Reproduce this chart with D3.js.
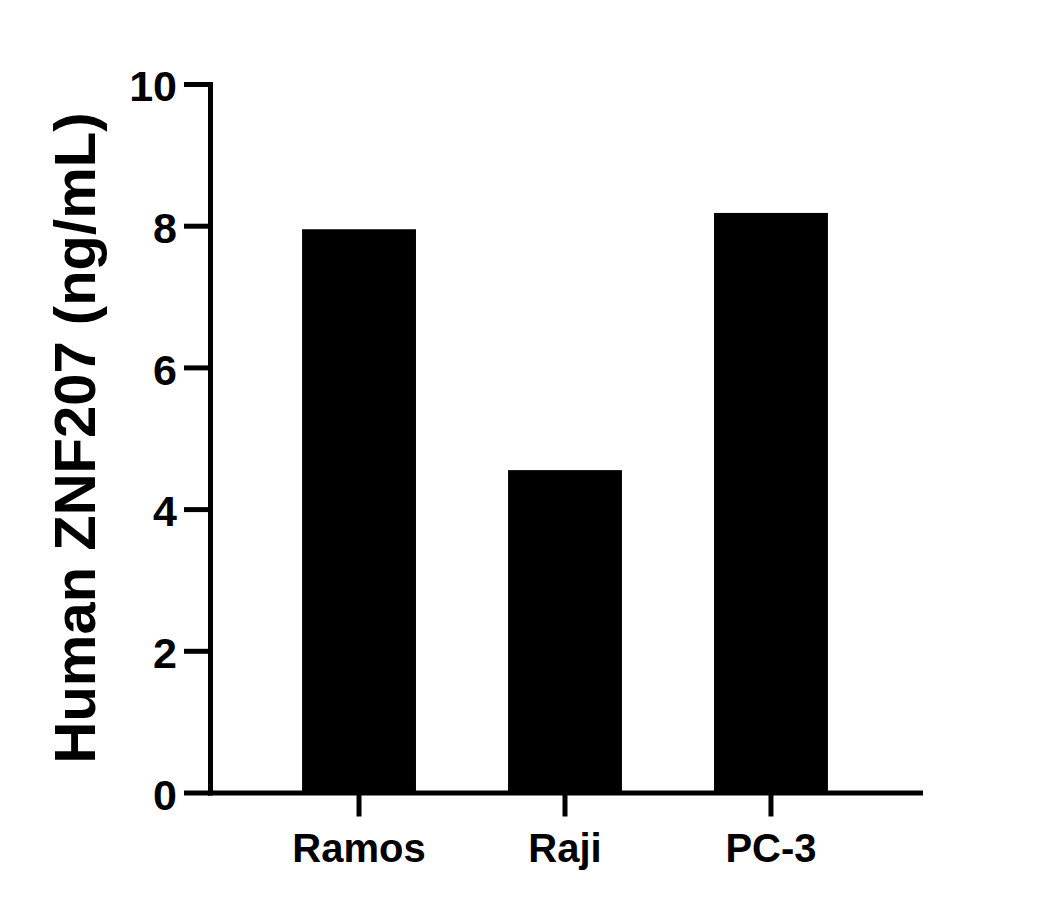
<!DOCTYPE html>
<html>
<head>
<meta charset="utf-8">
<script src="https://cdn.jsdelivr.net/npm/d3@7"></script>
<style>
    body { margin: 0; background: #fff; }
    text { font-family: "Liberation Sans", Arial, sans-serif; font-weight: bold; fill: #000; }
</style>
</head>
<body>
<div id="chart"></div>
<script>
var categories = ["Ramos", "Raji", "PC-3"];
var values = [7.95, 4.55, 8.18];
var yTicks = [0, 2, 4, 6, 8, 10];
var yTitle = "Human ZNF207 (ng/mL)";

(function () {
    var width = 1052, height = 910;
    var left = 210, right = 920, top = 84, bottom = 792.5;

    var svg = d3.select("#chart").append("svg")
        .attr("width", width)
        .attr("height", height);

    var x = d3.scaleBand()
        .domain(categories)
        .range([left, right])
        .padding(0.447);

    var y = d3.scaleLinear()
        .domain([0, 10])
        .range([bottom, top]);

    // bars
    svg.selectAll(".bar")
        .data(values)
        .enter().append("rect")
        .attr("class", "bar")
        .attr("x", function (d, i) { return x(categories[i]); })
        .attr("y", function (d) { return y(d); })
        .attr("width", x.bandwidth())
        .attr("height", function (d) { return y(0) - y(d); })
        .attr("fill", "#000");

    // y axis
    var gy = svg.append("g")
        .attr("transform", "translate(" + left + ",0)")
        .call(d3.axisLeft(y).tickValues(yTicks).tickSize(26).tickSizeOuter(0));
    gy.select(".domain").attr("stroke-width", 5).attr("stroke-linecap", "square");
    gy.selectAll(".tick line").attr("stroke-width", 5);
    gy.selectAll(".tick text")
        .attr("x", -33)
        .attr("dy", "0.39em")
        .style("font-size", "43px");

    // x axis
    var gx = svg.append("g")
        .attr("transform", "translate(0," + bottom + ")")
        .call(d3.axisBottom(x).tickSize(24).tickSizeOuter(0));
    gx.select(".domain").attr("stroke-width", 5).attr("stroke-linecap", "square");
    gx.selectAll(".tick line").attr("stroke-width", 5);
    gx.selectAll(".tick text")
        .attr("y", 69.5)
        .attr("dy", 0)
        .style("font-size", "40px");

    svg.selectAll(".domain, .tick line").attr("stroke", "#000");

    // y title
    svg.append("text")
        .attr("transform", "translate(95,438) rotate(-90)")
        .attr("text-anchor", "middle")
        .style("font-size", "58px")
        .text(yTitle);
}());
</script>
</body>
</html>
